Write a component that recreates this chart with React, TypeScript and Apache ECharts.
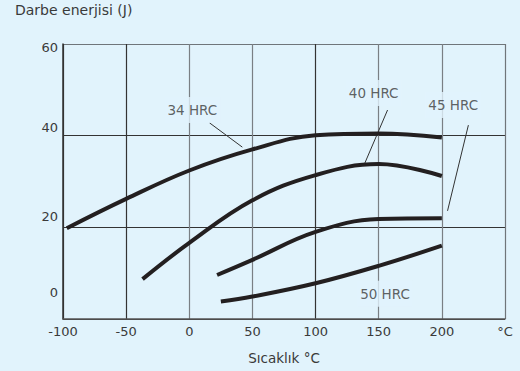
import React, { useEffect, useRef } from "react";
import * as echarts from "echarts";

const xTicks = [-100, -50, 0, 50, 100, 150, 200, 250];
const yTicks = [0, 20, 40, 60];
const xUnitLabel = "°C";
const titleText = "Darbe enerjisi (J)";
const xName = "Sıcaklık °C";

const temps34 = [-97, -50, 0, 50, 100, 150, 200];
const values34 = [19.8, 26.2, 32.4, 37.0, 40.1, 40.5, 39.6];
const temps40 = [-37, 0, 50, 100, 150, 200];
const values40 = [8.7, 16.6, 25.9, 31.4, 33.8, 31.2];
const temps45 = [22, 50, 100, 150, 200];
const values45 = [9.6, 12.9, 19.0, 21.8, 22.0];
const temps50 = [25, 50, 100, 150, 200];
const values50 = [3.8, 4.9, 7.8, 11.6, 16.0];

const curveNames = ["34 HRC", "40 HRC", "45 HRC", "50 HRC"];
// label anchors [temp, energy]
const labelX = [2.4, 146, 209, 155];
const labelY = [45.6, 49.3, 46.7, 5.5];
// pointer segments [x1, y1, x2, y2]
const pointers = [
  [16, 42.8, 42, 37.5],
  [157, 45.6, 139, 34.0],
  [221, 42.3, 204.5, 23.6],
];

const BG = "#e1f3fc";
const TEXT = "#3a3a3a";
const FONT = "DejaVu Sans";

export default function App() {
  const ref = useRef<HTMLDivElement>(null);
  useEffect(() => {
    if (!ref.current) return;
    const chart = echarts.init(ref.current, undefined, { renderer: "svg" });
    const pair = (xs: number[], ys: number[]) => xs.map((x, i) => [x, ys[i]]);
    const curves = [
      pair(temps34, values34),
      pair(temps40, values40),
      pair(temps45, values45),
      pair(temps50, values50),
    ];
    const yShift: Record<number, string> = {
      60: "{g6| }\n{t|60}",
      40: "{t|40}\n{g16| }",
      20: "{t|20}\n{g22| }",
      0: "{t|0}\n{g54| }",
    };
    chart.setOption({
      animation: false,
      backgroundColor: BG,
      textStyle: { fontFamily: FONT },
      title: {
        text: titleText,
        left: 15,
        top: 3,
        padding: 0,
        textStyle: { fontSize: 14, fontWeight: "normal", color: TEXT, fontFamily: FONT },
      },
      grid: { left: 63, right: 15, top: 44, bottom: 52 },
      xAxis: {
        type: "value",
        min: xTicks[0],
        max: xTicks[xTicks.length - 1],
        interval: 50,
        name: xName,
        nameLocation: "middle",
        nameGap: 32,
        nameTextStyle: { fontSize: 13.5, color: TEXT, fontFamily: FONT },
        axisLine: { show: true, onZero: false, lineStyle: { color: "#555", width: 1.5 } },
        axisTick: { show: false },
        axisLabel: {
          fontSize: 13,
          color: TEXT,
          margin: 6,
          fontFamily: FONT,
          formatter: (v: number) => (v === xTicks[xTicks.length - 1] ? xUnitLabel : String(v)),
        },
        splitLine: {
          show: true,
          lineStyle: {
            width: 1.2,
            color: ["#333", "#333", "#7a7f84", "#7a7f84", "#333", "#7a7f84", "#7a7f84", "#6f757a"],
          },
        },
      },
      yAxis: {
        type: "value",
        min: yTicks[0],
        max: yTicks[yTicks.length - 1],
        interval: 20,
        axisLine: { show: true, onZero: false, lineStyle: { color: "#333", width: 1.5 } },
        axisTick: { show: false },
        axisLabel: {
          fontSize: 13,
          color: TEXT,
          margin: 5,
          fontFamily: FONT,
          formatter: (v: number) => yShift[v] ?? String(v),
          rich: {
            t: { fontSize: 13, lineHeight: 15, color: TEXT, fontFamily: FONT },
            g6: { lineHeight: 6, fontSize: 4 },
            g16: { lineHeight: 16, fontSize: 4 },
            g22: { lineHeight: 22, fontSize: 4 },
            g54: { lineHeight: 54, fontSize: 4 },
          },
        },
        splitLine: {
          show: true,
          lineStyle: { width: 1.2, color: ["#333", "#333", "#333", "#6f757a"] },
        },
      },
      series: [
        ...curves.map((d, i) => ({
          type: "line",
          name: curveNames[i],
          data: d,
          smooth: 0.4,
          showSymbol: false,
          symbol: "none",
          lineStyle: { color: "#231f20", width: 4, cap: "butt" },
          z: 3,
        })),
        ...pointers.map((p) => ({
          type: "line",
          data: [
            [p[0], p[1]],
            [p[2], p[3]],
          ],
          showSymbol: false,
          symbol: "none",
          lineStyle: { color: "#333", width: 1 },
          z: 2,
          silent: true,
        })),
        {
          type: "scatter",
          symbolSize: 0,
          silent: true,
          z: 4,
          data: curveNames.map((n, i) => ({ name: n, value: [labelX[i], labelY[i]] })),
          label: {
            show: true,
            position: "inside",
            formatter: (p: any) => p.name,
            fontSize: 13.5,
            color: TEXT,
            fontFamily: FONT,
            backgroundColor: BG,
            padding: [6, 3, 6, 3],
          },
        },
      ],
    });
    return () => chart.dispose();
  }, []);
  return <div ref={ref} style={{ width: 520, height: 371, position: "absolute", left: 0, top: 0 }} />;
}
